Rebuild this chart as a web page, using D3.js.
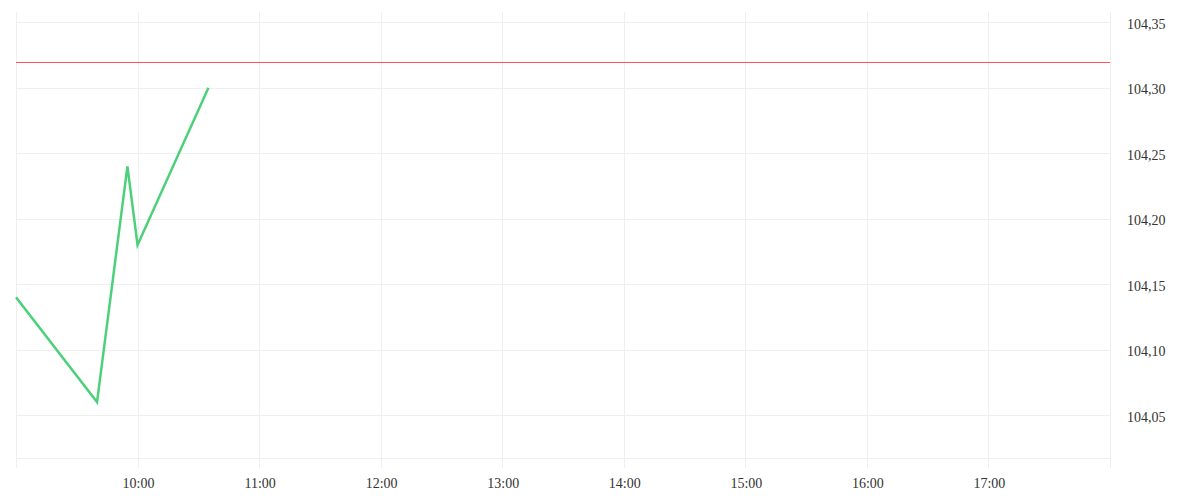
<!DOCTYPE html>
<html lang="en">
<head>
    <meta charset="UTF-8">
    <title>Intraday price</title>
    <script type="text/javascript" src="https://d3js.org/d3.v7.min.js"></script>
    <style>
        body { margin: 0; background: #fff; }
        .lbl { font-family: "Liberation Serif", serif; font-size: 14px; fill: #333; }
    </style>
</head>
<body>
    <svg class="canvas"></svg>
    <script type="text/javascript">
        // data
        var times = ['09:00', '09:40', '09:55', '10:00', '10:35'];
        var prices = [104.14, 104.06, 104.24, 104.18, 104.30];
        var refPrice = 104.32;
        var yTicks = [104.05, 104.10, 104.15, 104.20, 104.25, 104.30, 104.35];
        var xTicks = ['10:00', '11:00', '12:00', '13:00', '14:00', '15:00', '16:00', '17:00'];
        var dayStart = '09:00', dayEnd = '18:00';

        var svg_width = 1200, svg_height = 500;
        // plot box (note: "top" is a reserved window global, so use pTop)
        var pLeft = 16, pRight = 1110, pTop = 12, pBottom = 458;

        var parse = d3.timeParse('%H:%M');
        var fmt = d3.timeFormat('%H:%M');
        var comma = function(v) { return d3.format('.2f')(v).replace('.', ','); };
        var crisp = function(px) { return Math.round(px) + 0.5; };

        var xScale = d3.scaleTime().domain([parse(dayStart), parse(dayEnd)]).range([pLeft, pRight]);
        var yScale = d3.scaleLinear().domain([104.0173, 104.3579]).range([pBottom, pTop]);

        var svg = d3.select('svg').attr('width', svg_width).attr('height', svg_height);

        // horizontal grid, plus the bottom edge
        svg.selectAll('line.hgrid')
            .data(yTicks.concat([yScale.domain()[0]]))
            .enter().append('line')
            .attr('class', 'hgrid')
            .attr('x1', pLeft).attr('x2', pRight)
            .attr('y1', function(d) { return crisp(yScale(d)); })
            .attr('y2', function(d) { return crisp(yScale(d)); })
            .attr('stroke', '#efefef');

        // vertical grid (edges too), running a bit past the bottom like ticks
        var vLines = [dayStart].concat(xTicks).concat([dayEnd]).map(parse);
        svg.selectAll('line.vgrid')
            .data(vLines)
            .enter().append('line')
            .attr('class', 'vgrid')
            .attr('x1', function(d) { return crisp(xScale(d)); })
            .attr('x2', function(d) { return crisp(xScale(d)); })
            .attr('y1', pTop).attr('y2', pBottom + 10)
            .attr('stroke', '#efefef');

        // x labels
        svg.selectAll('text.xl')
            .data(xTicks.map(parse))
            .enter().append('text')
            .attr('class', 'lbl')
            .attr('x', function(d) { return xScale(d) + 1; })
            .attr('y', pBottom + 30)
            .attr('text-anchor', 'middle')
            .text(function(d) { return fmt(d); });

        // y labels on the right
        svg.selectAll('text.yl')
            .data(yTicks)
            .enter().append('text')
            .attr('class', 'lbl')
            .attr('x', pRight + 17)
            .attr('y', function(d) { return yScale(d); })
            .attr('dy', '0.46em')
            .text(function(d) { return comma(d); });

        // reference level
        svg.append('line')
            .attr('x1', pLeft).attr('x2', pRight)
            .attr('y1', crisp(yScale(refPrice))).attr('y2', crisp(yScale(refPrice)))
            .attr('stroke', '#ff525c')
            .attr('stroke-width', 1);

        // price line
        var data = times.map(function(t, i) { return { t: parse(t), v: prices[i] }; });
        var line = d3.line()
            .x(function(d) { return xScale(d.t); })
            .y(function(d) { return yScale(d.v); });

        svg.append('path')
            .datum(data)
            .attr('d', line)
            .attr('fill', 'none')
            .attr('stroke', '#4cd17a')
            .attr('stroke-width', 2.5)
            .attr('stroke-linejoin', 'miter');
    </script>
</body>
</html>
